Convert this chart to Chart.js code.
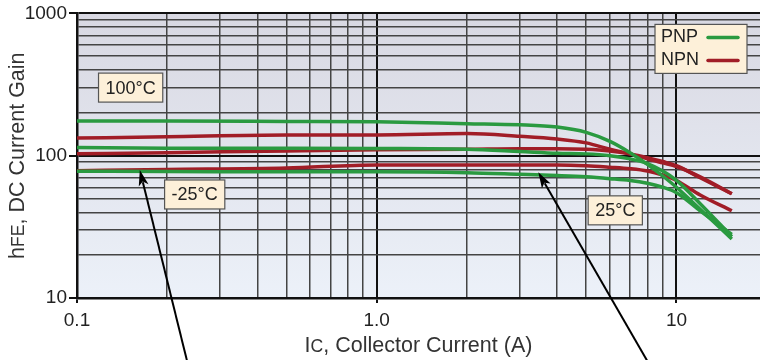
<!DOCTYPE html>
<html>
<head>
<meta charset="utf-8">
<script src="https://cdn.jsdelivr.net/npm/chart.js@4.4.1/dist/chart.umd.min.js"></script>
<style>
html,body{margin:0;padding:0;background:#fff;}
#wrap{width:760px;height:360px;}
</style>
</head>
<body>
<div id="wrap"><canvas id="c" width="760" height="360"></canvas></div>
<script>
// ---- data ----
const currents = [0.1, 0.2, 0.5, 1, 2, 3, 4, 5, 6, 7, 8, 9, 10, 12, 15.3];
const pnp100  = [175, 175, 174, 173, 168, 165, 159, 146, 126, 105, 87, 72, 60, 42, 26];
const pnp25   = [114, 113, 113, 112.5, 111, 107, 104, 103, 100, 95, 88, 78, 67, 46, 27];
const pnpM25  = [77.7, 77.5, 77, 77, 76, 74, 72.5, 71, 69, 67, 64, 60, 55, 41, 28];
const npn100  = [133, 136, 140, 140, 143, 137, 131, 123, 111, 103, 95, 89, 84, 71, 54];
const npn25   = [103, 105, 108, 110, 111, 112, 112, 111, 108, 103, 97, 91, 85, 70, 54];
const npnM25  = [78.5, 80, 82, 86, 86, 86, 86, 85, 83, 81, 78, 73, 67, 53, 41];
const xTickLabels = ['0.1', '1.0', '10'];
const yTickLabels = ['10', '100', '1000'];
const legendNames = ['PNP', 'NPN'];
const tempLabels = ['100°C', '-25°C', '25°C'];

// ---- styling / layout ----
const GREEN = '#2a9a40';
const RED = '#a11d27';
const FONT = "'Liberation Sans', Arial, Helvetica, sans-serif";
const tempLabelPos = [ {x:0.151, y:301}, {x:0.247, y:53.4}, {x:6.25, y:41.3} ];
const arrows = [
  {tip:{x:0.162, y:79.5}, tail:{x:0.233, y:3.6}},
  {tip:{x:3.46, y:76.5}, tail:{x:8.0, y:3.6}}
];

function pts(arr){ return currents.map((c,i)=>({x:c, y:arr[i]})); }
function isMajor(v){ const l=Math.log10(v); return Math.abs(l-Math.round(l))<1e-6; }
function isDecadeStep(v){ const m = v/Math.pow(10, Math.floor(Math.log10(v)+1e-9)); return Math.abs(m-Math.round(m))<1e-6; }
function majorLabel(v, labels, base){
  if(!isMajor(v)) return '';
  const idx = Math.round(Math.log10(v)) - base;
  return labels[idx] !== undefined ? labels[idx] : '';
}
function gridColor(c){
  if(!c.tick) return '#444';
  const v = c.tick.value;
  if(isMajor(v)) return '#111';
  return isDecadeStep(v) ? '#444' : 'rgba(0,0,0,0)';
}

function line(label, arr, color){
  return {label, data: pts(arr), borderColor: color, backgroundColor: color,
    borderWidth: 3.5, pointRadius: 0, cubicInterpolationMode: 'monotone', fill: false};
}

const bgPlugin = {
  id: 'bg',
  beforeDraw(chart){
    const {ctx, chartArea:a} = chart;
    ctx.save();
    ctx.fillStyle = '#fff';
    ctx.fillRect(0,0,chart.width,chart.height);
    const g = ctx.createLinearGradient(0,a.top,0,a.bottom);
    g.addColorStop(0,'#d8d8e2');
    g.addColorStop(1,'#ecf1f9');
    ctx.fillStyle = g;
    ctx.fillRect(a.left,a.top,chart.width-a.left,a.bottom-a.top);
    ctx.restore();
  }
};

function drawSubText(ctx, segs, size){
  let w = 0;
  segs.forEach(s=>{ ctx.font = (s.sub? size*0.82 : size)+'px '+FONT; s.w = ctx.measureText(s.t).width; w += s.w; });
  let x = -w/2;
  segs.forEach(s=>{ ctx.font = (s.sub? size*0.82 : size)+'px '+FONT; ctx.fillText(s.t, x, s.sub?1.5:0); x += s.w; });
}

function box(ctx, cx, cy, text){
  ctx.font = '18px '+FONT;
  const w = ctx.measureText(text).width + 14;
  const h = 29;
  ctx.fillStyle = '#fdf0d9';
  ctx.strokeStyle = '#555';
  ctx.lineWidth = 1.2;
  ctx.fillRect(cx-w/2, cy-h/2, w, h);
  ctx.strokeRect(cx-w/2, cy-h/2, w, h);
  ctx.fillStyle = '#222';
  ctx.textAlign = 'center';
  ctx.textBaseline = 'middle';
  ctx.fillText(text, cx, cy+1);
}

const overlayPlugin = {
  id: 'overlay',
  afterDraw(chart){
    const {ctx, chartArea:a, scales:{x, y}} = chart;
    ctx.save();
    // temperature labels
    tempLabels.forEach((t,i)=>{
      box(ctx, x.getPixelForValue(tempLabelPos[i].x), y.getPixelForValue(tempLabelPos[i].y), t);
    });
    // legend
    const lw = 92, lh = 49;
    const lx = chart.width - 13 - lw, ly = a.top + 11;
    ctx.fillStyle = '#fdf0d9';
    ctx.strokeStyle = '#555';
    ctx.lineWidth = 1.2;
    ctx.fillRect(lx, ly, lw, lh);
    ctx.strokeRect(lx, ly, lw, lh);
    ctx.font = '18px '+FONT;
    ctx.textAlign = 'left';
    ctx.textBaseline = 'middle';
    [GREEN, RED].forEach((c,i)=>{
      const yy = ly + 13 + i*23;
      ctx.fillStyle = '#222';
      ctx.fillText(legendNames[i], lx + 6, yy);
      ctx.strokeStyle = c;
      ctx.lineWidth = 3.5;
      ctx.lineCap = 'round';
      ctx.beginPath();
      ctx.moveTo(lx + 53, yy);
      ctx.lineTo(lx + 83, yy);
      ctx.stroke();
    });
    // arrows
    arrows.forEach(ar=>{
      const tx = x.getPixelForValue(ar.tip.x), ty = y.getPixelForValue(ar.tip.y);
      const sx = x.getPixelForValue(ar.tail.x), sy = y.getPixelForValue(ar.tail.y);
      const ang = Math.atan2(ty-sy, tx-sx);
      const L = 16, W = 5;
      ctx.strokeStyle = '#000';
      ctx.lineWidth = 2;
      ctx.lineCap = 'butt';
      ctx.beginPath();
      ctx.moveTo(sx, sy);
      ctx.lineTo(tx - Math.cos(ang)*L*0.8, ty - Math.sin(ang)*L*0.8);
      ctx.stroke();
      ctx.fillStyle = '#000';
      ctx.beginPath();
      ctx.moveTo(tx, ty);
      const bx = tx - Math.cos(ang)*L, by = ty - Math.sin(ang)*L;
      ctx.lineTo(bx + Math.sin(ang)*W, by - Math.cos(ang)*W);
      ctx.lineTo(tx - Math.cos(ang)*L*0.75, ty - Math.sin(ang)*L*0.75);
      ctx.lineTo(bx - Math.sin(ang)*W, by + Math.cos(ang)*W);
      ctx.closePath();
      ctx.fill();
    });
    // axis titles
    ctx.fillStyle = '#333';
    ctx.textAlign = 'left';
    ctx.textBaseline = 'middle';
    ctx.save();
    ctx.translate(18, (a.top + a.bottom)/2);
    ctx.rotate(-Math.PI/2);
    drawSubText(ctx, [{t:'h'},{t:'FE',sub:true},{t:', DC Current Gain'}], 21.5);
    ctx.restore();
    ctx.save();
    ctx.translate((a.left + chart.width)/2, 346);
    drawSubText(ctx, [{t:'I'},{t:'C',sub:true},{t:', Collector Current (A)'}], 21.5);
    ctx.restore();
    ctx.restore();
  }
};

new Chart(document.getElementById('c'), {
  type: 'line',
  data: {
    datasets: [
      line('PNP 100°C', pnp100, GREEN),
      line('PNP 25°C', pnp25, GREEN),
      line('PNP -25°C', pnpM25, GREEN),
      line('NPN 100°C', npn100, RED),
      line('NPN 25°C', npn25, RED),
      line('NPN -25°C', npnM25, RED)
    ]
  },
  options: {
    responsive: false,
    animation: false,
    devicePixelRatio: 1,
    layout: {padding: {top: 11, right: 0, left: 0, bottom: 0}},
    plugins: {legend: {display: false}, tooltip: {enabled: false}},
    scales: {
      x: {
        type: 'logarithmic', min: 0.1, max: 19,
        afterFit(s){ s.height = 62; s.paddingRight = 0; s.paddingLeft = 0; },
        border: {display: true, color: '#111', width: 2.5},
        grid: {
          color: gridColor,
          lineWidth: c => (c.tick && isMajor(c.tick.value)) ? 2 : 1.5,
          tickColor: c => (c.tick && isMajor(c.tick.value)) ? '#111' : 'rgba(0,0,0,0)',
          tickLength: 5
        },
        ticks: {
          autoSkip: false, maxRotation: 0, padding: 6,
          color: '#222', font: {family: FONT, size: 19},
          callback: v => majorLabel(v, xTickLabels, -1)
        }
      },
      y: {
        type: 'logarithmic', min: 10, max: 1000,
        afterFit(s){ s.width = 77; },
        border: {display: true, color: '#111', width: 2.5},
        grid: {
          color: gridColor,
          lineWidth: c => (c.tick && isMajor(c.tick.value)) ? 2 : 1.5,
          tickColor: c => (c.tick && isMajor(c.tick.value)) ? '#111' : 'rgba(0,0,0,0)',
          tickLength: 8
        },
        ticks: {
          autoSkip: false, padding: 2,
          color: '#222', font: {family: FONT, size: 19},
          callback: v => majorLabel(v, yTickLabels, 1)
        }
      }
    }
  },
  plugins: [bgPlugin, overlayPlugin]
});
</script>
</body>
</html>
